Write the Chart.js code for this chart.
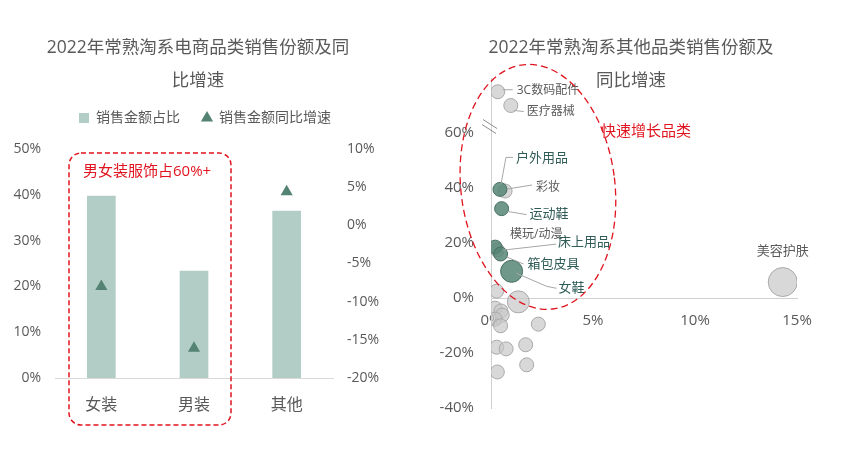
<!DOCTYPE html>
<html>
<head>
<meta charset="utf-8">
<script src="https://cdn.jsdelivr.net/npm/chart.js@4.4.0/dist/chart.umd.min.js"></script>
<style>
html, body { margin: 0; padding: 0; background: #fff; }
#wrap { position: relative; width: 843px; height: 453px; }
#left { position: absolute; left: 0; top: 0; }
#right { position: absolute; left: 400px; top: 0; }
</style>
</head>
<body>
<div id="wrap">
  <canvas id="left" width="400" height="453"></canvas>
  <canvas id="right" width="443" height="453"></canvas>
</div>
<script>
const FONT = "'Open Sans', 'Noto Sans CJK SC', sans-serif";
const GREY_TEXT = '#595959';
const RED = '#e0141e';

// 左图：电商品类
const categories = ['女装', '男装', '其他'];
const shareValues = [39.8, 23.4, 36.5];     // 销售金额占比 %
const growthValues = [-8.0, -16.1, 4.4];    // 销售金额同比增速 %
const leftTitle = ['2022年常熟淘系电商品类销售份额及同', '比增速'];

// 右图：其他品类 (x = 份额 %, y = 同比增速 %, r = 气泡大小)
const hotNames = ['户外用品', '运动鞋', '床上用品', '箱包皮具', '女鞋'];
const hotShare = [0.44, 0.52, 0.2, 0.47, 1.01];
const hotGrowth = [39.5, 32.5, 18.5, 16.0, 9.7];
const hotSize = [7, 7, 7, 7, 11];

const otherNames = ['3C数码配件', '医疗器械', '彩妆', '模玩/动漫', '美容护肤',
  '', '', '', '', '', '', '', '', '', '', '', '', ''];
const otherShare = [0.33, 0.97, 0.69, 0.3, 14.3,
  0.28, 1.34, 0.2, 0.49, 0.55, 0.2, 0.47, 2.32, 0.28, 0.74, 1.7, 1.75, 0.31];
const otherGrowth = [75, 70, 38.9, 17.5, 5.8,
  2.5, -1.4, -3.7, -4.7, -6.2, -7.7, -10.1, -9.5, -17.9, -18.5, -17.0, -24.3, -26.9];
const otherSize = [7, 7, 7, 7, 14.5,
  7, 11, 7, 7, 7, 7, 7, 7, 7, 7, 7, 7, 7];
const rightTitle = ['2022年常熟淘系其他品类销售份额及', '同比增速'];

// 标签位置（相对气泡中心的像素偏移）
const bubbleLabels = [
  { name: '3C数码配件', dx: 19, dy: -1, size: 12, color: GREY_TEXT, leader: [[5, -2], [15, -2]] },
  { name: '医疗器械', dx: 16, dy: 6, size: 12, color: GREY_TEXT, leader: [[3, 5], [13, 6]] },
  { name: '户外用品', dx: 16, dy: -31, size: 13, color: '#2f5c57', leader: [[1, -5], [6, -32], [13, -32]] },
  { name: '彩妆', dx: 31, dy: -3, size: 12, color: GREY_TEXT, leader: [[2, -2], [27, -6]] },
  { name: '运动鞋', dx: 28, dy: 6, size: 13, color: '#2f5c57', leader: [[7, 3], [25, 6]] },
  { name: '模玩/动漫', dx: 13, dy: -15, size: 12, color: GREY_TEXT, leader: null },
  { name: '床上用品', dx: 63, dy: -5, size: 13, color: '#2f5c57', leader: [[8, 3], [61, -3]] },
  { name: '箱包皮具', dx: 27, dy: 10, size: 13, color: '#2f5c57', leader: [[6, 3], [23, 10]] },
  { name: '女鞋', dx: 47, dy: 17, size: 13, color: '#2f5c57', leader: [[5, 2], [35, 15], [45, 17]] },
  { name: '美容护肤', dx: 0, dy: -31, size: 13, color: GREY_TEXT, align: 'center', leader: null }
];

function drawTitle(ctx, lines, cx) {
  ctx.save();
  ctx.font = '17.5px ' + FONT;
  ctx.fillStyle = GREY_TEXT;
  ctx.textAlign = 'center';
  ctx.textBaseline = 'middle';
  ctx.fillText(lines[0], cx, 48);
  ctx.fillText(lines[1], cx, 81);
  ctx.restore();
}

// 左图装饰：标题、红色虚线框
const leftDeco = {
  id: 'leftDeco',
  afterInit(chart) {
    // 图例下方多留一点空白
    const lg = chart.legend;
    const fit = lg.fit;
    lg.fit = function () { fit.call(this); this.height += 14; };
  },
  afterDraw(chart) {
    const ctx = chart.ctx;
    drawTitle(ctx, leftTitle, 198);
    ctx.save();
    ctx.strokeStyle = RED;
    ctx.lineWidth = 1.5;
    ctx.setLineDash([5, 3]);
    ctx.beginPath();
    ctx.roundRect(69, 153, 162, 272, 12);
    ctx.stroke();
    ctx.setLineDash([]);
    ctx.fillStyle = RED;
    ctx.font = '15px ' + FONT;
    ctx.textBaseline = 'middle';
    ctx.fillText('男女装服饰占60%+', 83, 172);
    ctx.restore();
  }
};

new Chart(document.getElementById('left'), {
  data: {
    labels: categories,
    datasets: [
      {
        type: 'line',
        label: '销售金额同比增速',
        data: growthValues,
        yAxisID: 'y1',
        showLine: false,
        pointStyle: 'triangle',
        pointRadius: 7,
        pointHoverRadius: 7,
        backgroundColor: '#548273',
        borderColor: '#548273',
        borderWidth: 0,
        order: 1
      },
      {
        type: 'bar',
        label: '销售金额占比',
        data: shareValues,
        yAxisID: 'y',
        backgroundColor: '#b2cdc5',
        barPercentage: 0.31,
        categoryPercentage: 1,
        pointStyle: 'rect',
        order: 2
      }
    ]
  },
  options: {
    responsive: false,
    animation: false,
    layout: { padding: { top: 89, left: 10, right: 0, bottom: 0 } },
    plugins: {
      tooltip: { enabled: false },
      legend: {
        reverse: true,
        labels: {
          usePointStyle: true,
          boxWidth: 10,
          boxHeight: 10,
          padding: 22,
          color: GREY_TEXT,
          font: { family: FONT, size: 14 }
        }
      }
    },
    scales: {
      x: {
        grid: { display: false, drawTicks: false },
        border: { color: '#d9d9d9' },
        ticks: { color: GREY_TEXT, font: { family: FONT, size: 16 }, padding: 18 },
        afterFit: s => { s.height = 75; }
      },
      y: {
        position: 'left',
        min: 0, max: 50,
        grid: { display: false, drawTicks: false },
        border: { display: false },
        ticks: { stepSize: 10, padding: 14, color: GREY_TEXT, font: { family: FONT, size: 14 }, callback: v => v + '%' },
        afterFit: s => { s.width = 45; }
      },
      y1: {
        position: 'right',
        min: -20, max: 10,
        grid: { display: false, drawTicks: false },
        border: { display: false },
        ticks: { stepSize: 5, padding: 14, color: GREY_TEXT, font: { family: FONT, size: 14 }, callback: v => v + '%' },
        afterFit: s => { s.width = 67; }
      }
    }
  },
  plugins: [leftDeco]
});

// 右图装饰：标题、虚线椭圆、断轴标记、气泡标签
function findBubble(name) {
  let i = hotNames.indexOf(name);
  if (i >= 0) return { set: 1, idx: i };
  i = otherNames.indexOf(name);
  return { set: 0, idx: i };
}

const rightDeco = {
  id: 'rightDeco',
  afterDraw(chart) {
    const ctx = chart.ctx;
    const { x, y } = chart.scales;
    drawTitle(ctx, rightTitle, 231);

    // 断轴
    const bx = x.getPixelForValue(0);
    const by = y.getPixelForValue(62);
    ctx.save();
    ctx.strokeStyle = '#8c8c8c';
    ctx.lineWidth = 1;
    ctx.beginPath();
    ctx.moveTo(bx - 8, by - 8); ctx.lineTo(bx + 6, by + 1);
    ctx.moveTo(bx - 9, by - 3); ctx.lineTo(bx + 5, by + 6);
    ctx.stroke();

    // 气泡标签
    bubbleLabels.forEach(l => {
      const f = findBubble(l.name);
      const el = chart.getDatasetMeta(f.set).data[f.idx];
      if (!el) return;
      const px = el.x, py = el.y;
      if (l.leader) {
        ctx.strokeStyle = '#a6a6a6';
        ctx.lineWidth = 1;
        ctx.beginPath();
        l.leader.forEach((p, k) => {
          if (k === 0) ctx.moveTo(px + p[0], py + p[1]);
          else ctx.lineTo(px + p[0], py + p[1]);
        });
        ctx.stroke();
      }
      ctx.fillStyle = l.color;
      ctx.font = l.size + 'px ' + FONT;
      ctx.textAlign = l.align || 'left';
      ctx.textBaseline = 'middle';
      ctx.fillText(l.name, px + l.dx, py + l.dy);
    });

    // 快速增长品类 虚线椭圆
    const ex = x.getPixelForValue(2.3);
    const ey = y.getPixelForValue(40.4);
    ctx.strokeStyle = RED;
    ctx.lineWidth = 1.3;
    ctx.setLineDash([7, 4]);
    ctx.beginPath();
    ctx.ellipse(ex, ey, 77, 123, -0.12, 0, Math.PI * 2);
    ctx.stroke();
    ctx.setLineDash([]);
    ctx.fillStyle = RED;
    ctx.font = '15px ' + FONT;
    ctx.textAlign = 'left';
    ctx.textBaseline = 'middle';
    ctx.fillText('快速增长品类', ex + 63, ey - 55);
    ctx.restore();
  }
};

function toPoints(xs, ys, rs) {
  return xs.map((v, i) => ({ x: v, y: ys[i], r: rs[i] }));
}

new Chart(document.getElementById('right'), {
  type: 'bubble',
  data: {
    datasets: [
      {
        label: '其他品类',
        data: toPoints(otherShare, otherGrowth, otherSize),
        backgroundColor: 'rgba(200, 200, 200, 0.7)',
        borderColor: '#a9a9a9',
        borderWidth: 1,
        order: 2
      },
      {
        label: '快速增长品类',
        data: toPoints(hotShare, hotGrowth, hotSize),
        backgroundColor: 'rgba(86, 134, 118, 0.85)',
        borderColor: '#46705f',
        borderWidth: 1,
        order: 1
      }
    ]
  },
  options: {
    responsive: false,
    animation: false,
    layout: { padding: { top: 78, left: 0, right: 46, bottom: 45 } },
    plugins: { legend: { display: false }, tooltip: { enabled: false } },
    scales: {
      x: {
        type: 'linear',
        position: { y: 0 },
        min: 0, max: 15,
        grid: { display: false, drawTicks: false },
        border: { color: '#d0d0d0' },
        ticks: { stepSize: 5, padding: 14, color: GREY_TEXT, font: { family: FONT, size: 15 }, callback: v => v + '%' }
      },
      y: {
        type: 'linear',
        position: 'left',
        min: -40, max: 80,
        grid: { display: false, drawTicks: false },
        border: { color: '#d0d0d0' },
        ticks: { stepSize: 20, padding: 17, color: GREY_TEXT, font: { family: FONT, size: 15 }, callback: v => v === 80 ? '' : v + '%' },
        afterFit: s => { s.width = 91; }
      }
    }
  },
  plugins: [rightDeco]
});
</script>
</body>
</html>
